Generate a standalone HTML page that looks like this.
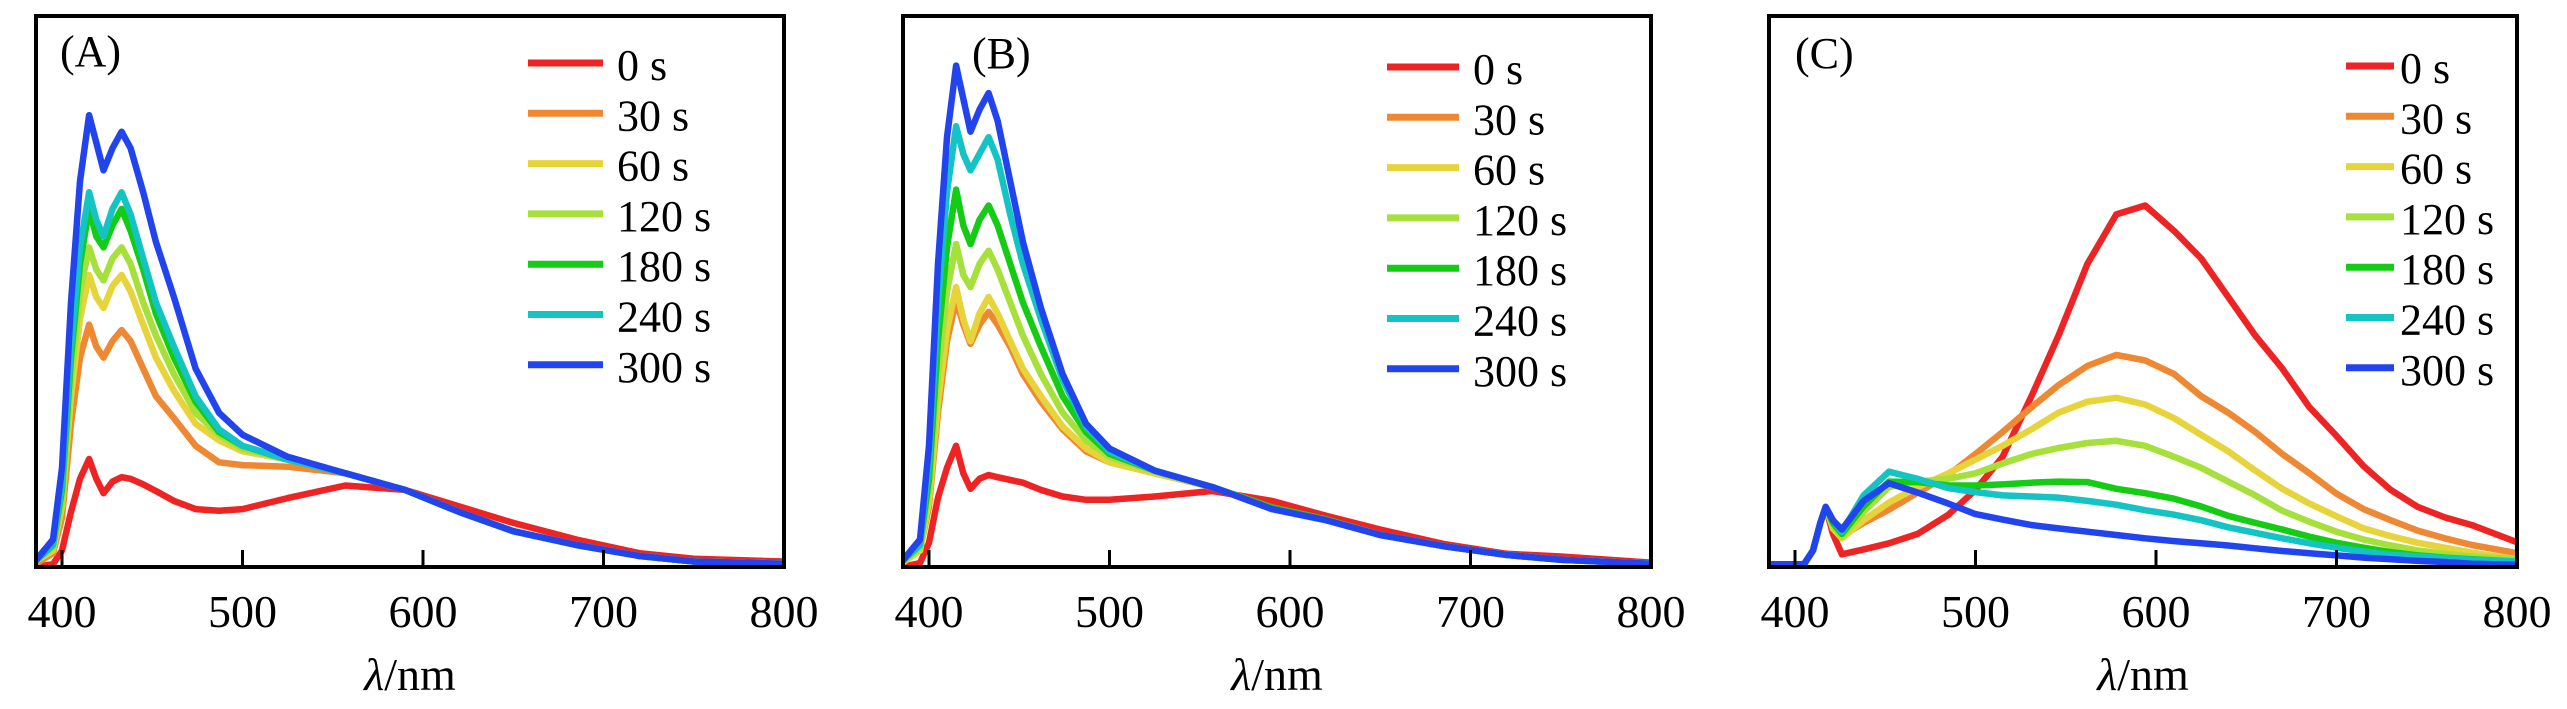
<!DOCTYPE html>
<html><head><meta charset="utf-8"><style>
html,body{margin:0;padding:0;background:#fff;}
svg{display:block;}
svg text{font-family:"Liberation Serif","Times New Roman",serif;fill:#000;}
</style></head><body>
<svg id="fig" width="2567" height="709" viewBox="0 0 2567 709" xmlns="http://www.w3.org/2000/svg"></svg>
<script>
const seriesLabels = ["0 s","30 s","60 s","120 s","180 s","240 s","300 s"];
const seriesColors = ["#ee2424","#ee8833","#e6d43a","#a6e03a","#14cc14","#14c4c4","#2244ee"];
const xTicks = [400,500,600,700,800];
const wlAB = [385,395,400,405,410,415,419,423,428,433,438,445,452,462,474,487,500,525,557,590,620,650,685,720,750,800];
const A0 = [0,0.5,3,10,16,19.6,16,13.4,15.5,16.3,16,15,13.8,12,10.5,10.2,10.5,12.5,14.8,14,11,8,5,2.5,1.5,1];
const A30 = [0.5,2.5,9,26,38,44,40,38,41,43,41,36,31,27,22,19,18.5,18.2,17,14,10,6.5,4,2,1,0.6];
const A60 = [1,3,11,31,45,53,49,47,51,53,50,44,38,32,26,23,21,19.5,17,14,10,6.5,4,2,1,0.6];
const A120 = [1,3.5,12,34,50,58,54,52,56,58,55,48,42,35,28,24,21.5,19.5,17,14,10,6.5,4,2,1,0.6];
const A180 = [1,4,14,38,55,65,60,58,62,65,61,54,46,38,30,24.5,22,19.5,17,14,10,6.5,4,2,1,0.6];
const A240 = [1,4,15,40,58,68,63,60,65,68,64,56,48,40,31,25,22,19.5,17,14,10,6.5,4,2,1,0.6];
const A300 = [1,5,18,48,70,82,77,72,76,79,76,68,59,49,36,28,24,20,17,14,10,6.5,4,2,1,0.6];
const B0 = [0,0.7,4.4,12.6,18,22,17,14.2,16,16.7,16.3,15.8,15.3,14,12.8,12.2,12.2,12.8,13.8,12,9.3,6.8,4.2,2.4,1.9,0.8];
const B30 = [0.7,3,11,28,41,48.4,44,40.5,44,46.3,44,40,35,30,25,21,19,17,14.5,10.8,8.6,5.8,3.8,2.2,1.3,0.6];
const B60 = [0.7,3,12,30,43,50.8,45,41,46,49,46,41,36,31,25.5,21.5,19,17,14.5,10.8,8.6,5.8,3.8,2.2,1.3,0.6];
const B120 = [0.8,3.5,14,35,50,58.6,53,50.8,55,57.4,54,48,42,35,28,23,20,17.3,14.5,10.8,8.6,5.8,3.8,2.2,1.3,0.6];
const B180 = [1,4,16,41,58,68.5,62,58.6,63,65.6,62,55,48,40,31,24.5,20.5,17.5,14.5,10.8,8.6,5.8,3.8,2.2,1.3,0.6];
const B240 = [1,4,19,48,68,80,75,72,75,78,74,64,55,45,34,25.5,21,17.5,14.5,10.5,8.5,5.8,3.8,2.2,1.3,0.6];
const B300 = [1,5,22,55,78,91,85,79,83,86,81,70,59,47,35,26,21.5,17.5,14.5,10.5,8.5,5.8,3.8,2.2,1.3,0.6];
const wlC = [385,405,410,414,417,421,426,438,452,468,485,500,515,531,546,562,578,594,610,625,640,655,670,685,700,715,730,745,760,775,800];
const C0 = [0.5,0.5,3,8,10.9,6,2.3,3.2,4.3,6,9.5,14,20,31,42,55,64,65.6,61,56,49,42,36,29,23.8,18.3,14,10.9,9,7.6,4.5];
const C30 = [0.5,0.5,3,8,10.9,7,5.6,8,10.4,13.5,16.7,20.5,24.5,29,33,36.5,38.5,37.5,35,31,28,24.5,20.5,17,13.3,10.5,8.5,6.6,5.2,4,2.5];
const C60 = [0.5,0.5,3,8,10.9,7,5.2,8.5,11.7,14.5,17,19.5,22,25,28,30,30.7,29.5,27,24,21,17.5,14.2,11.5,9.2,7,5.6,4.4,3.5,2.6,1.4];
const C120 = [0.5,0.5,3,8,10.9,7.5,5.5,10,14.5,15.5,16,17,18.8,20.5,21.6,22.5,22.9,22,20,18,15.5,13,10.2,8.2,6.4,5,3.9,3,2.4,1.9,1.4];
const C180 = [0.5,0.5,3,8,10.9,8,6,11,15.5,15.4,14.8,14.8,15,15.3,15.5,15.4,14.2,13.4,12.4,11,9.3,8,6.8,5.5,4.4,3.5,2.7,2.1,1.7,1.4,1];
const C240 = [0.5,0.5,3,8,10.9,8.5,6.4,13,17.3,16,14.3,13.6,13,12.8,12.6,12,11.3,10.3,9.5,8.5,7.2,6.2,5.2,4.3,3.5,2.8,2.2,1.9,1.6,1.3,1];
const C300 = [0.5,0.5,3,8,10.9,8.5,6.8,12,15.2,13.5,11.5,9.6,8.6,7.6,7,6.4,5.8,5.2,4.7,4.3,3.9,3.4,2.9,2.5,2.1,1.7,1.4,1.1,0.9,0.6,0.4];

const NS="http://www.w3.org/2000/svg";
const FONT='"Liberation Serif", "Times New Roman", serif';
const svg=document.getElementById('fig');
function mk(tag,attrs,parent){const e=document.createElementNS(NS,tag);for(const k in attrs)e.setAttribute(k,attrs[k]);(parent||svg).appendChild(e);return e;}

const panels=[
 {id:'a',label:'(A)',left:36,wl:wlAB,data:[A0,A30,A60,A120,A180,A240,A300],lab:[60,66],leg:{x1:528,x2:603,tx:617,y0:63}},
 {id:'b',label:'(B)',left:903,wl:wlAB,data:[B0,B30,B60,B120,B180,B240,B300],lab:[972,68],leg:{x1:1387,x2:1459,tx:1473,y0:67}},
 {id:'c',label:'(C)',left:1769,wl:wlC,data:[C0,C30,C60,C120,C180,C240,C300],lab:[1795,68],leg:{x1:2346,x2:2394,tx:2400,y0:66}}
];
const plotTop=16,plotBottom=567,plotW=748;
panels.forEach(p=>{
  const g=mk('g',{});
  
  
  const xs=v=>p.left+26+(v-400)*1.805;
  const ys=v=>plotBottom-v*5.51;
  const clip=mk('clipPath',{id:'clip-'+p.id},g);
  mk('rect',{x:p.left,y:plotTop,width:plotW,height:plotBottom-plotTop},clip);
  const lines=mk('g',{'clip-path':'url(#clip-'+p.id+')'},g);
  p.data.forEach((arr,i)=>{
    const d=arr.map((v,j)=>(j?'L':'M')+xs(p.wl[j]).toFixed(1)+' '+ys(v).toFixed(1)).join(' ');
    const path=mk('path',{d:d,fill:'none',stroke:seriesColors[i],'stroke-width':6.5,'stroke-linejoin':'round'},lines);
    
    
  });
  const frame=mk('rect',{x:p.left,y:plotTop,width:plotW,height:plotBottom-plotTop,fill:'none',stroke:'#000','stroke-width':4},g);
  
  
  xTicks.forEach(t=>{
    const x=xs(t);
    if(t<800){const tk=mk('line',{x1:x,x2:x,y1:plotBottom,y2:plotBottom-17,stroke:'#000','stroke-width':3},g);
      
      }
    const tl=mk('text',{x:x,y:627,'font-size':46,'text-anchor':'middle','font-family':FONT},g);
    tl.textContent=t;
    
    
  });
  const xt=mk('text',{x:p.left+plotW/2,y:690,'font-size':46,'text-anchor':'middle','font-family':FONT},g);
  const lam=mk('tspan',{'font-style':'italic'},xt);
  lam.textContent='λ';
  const nm=mk('tspan',{},xt);
  nm.textContent='/nm';
  
  
  const pl=mk('text',{x:p.lab[0],y:p.lab[1],'font-size':44,'font-family':FONT},g);
  pl.textContent=p.label;
  
  
  seriesLabels.forEach((s,i)=>{
    const y=p.leg.y0+i*50.3;
    const ln=mk('line',{x1:p.leg.x1,x2:p.leg.x2,y1:y,y2:y,stroke:seriesColors[i],'stroke-width':7},g);
    
    
    const tx=mk('text',{x:p.leg.tx,y:y+17,'font-size':44,'font-family':FONT},g);
    tx.textContent=s;
    
    
  });
});
</script>
</body></html>
